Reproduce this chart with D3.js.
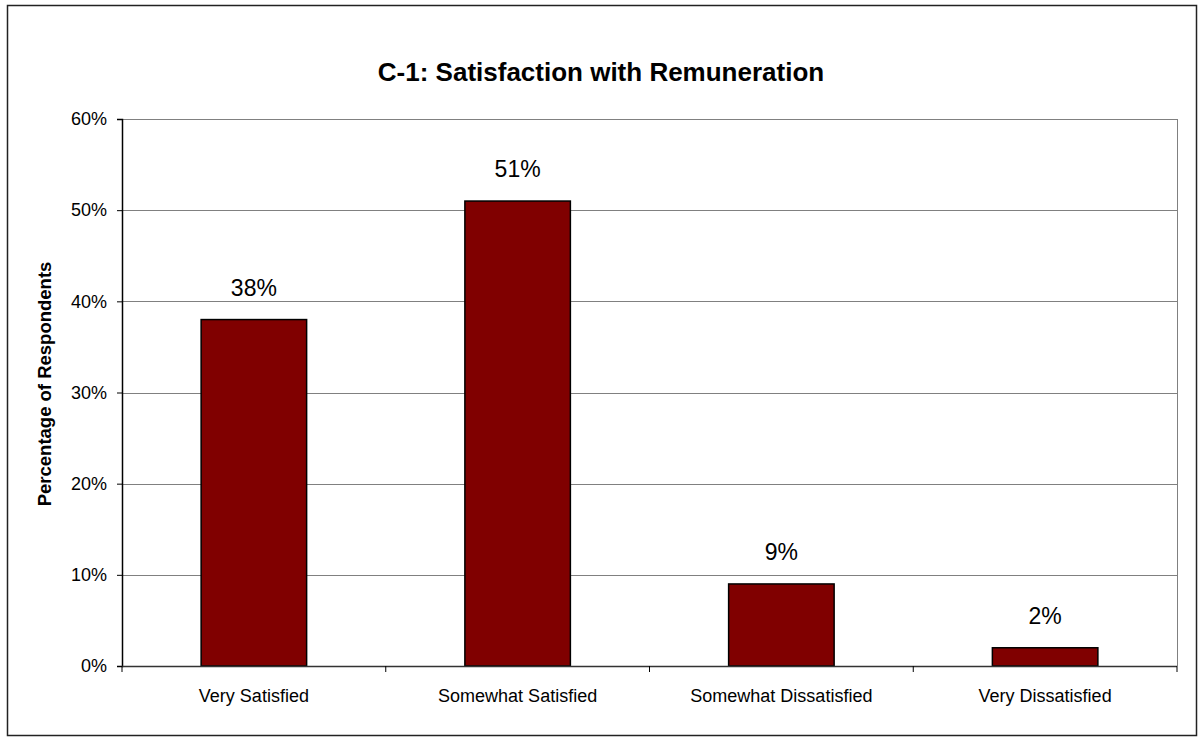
<!DOCTYPE html>
<meta charset="utf-8">
<style>
body { margin: 0; background: #fff; }
text { font-family: Arial, "Liberation Sans", sans-serif; fill: #000; }
.grid line { stroke: #808080; stroke-width: 1; }
.bar { fill: #800000; stroke: #000; stroke-width: 1.5; }
</style>
<script src="https://d3js.org/d3.v7.min.js"></script>
<svg id="chart" width="1198" height="738"></svg>
<script>

var categories = ["Very Satisfied", "Somewhat Satisfied", "Somewhat Dissatisfied", "Very Dissatisfied"];
var values = [38, 51, 9, 2];
var yTicks = [0, 10, 20, 30, 40, 50, 60];

var svg = d3.select("svg#chart"),
    width = +svg.attr("width"),
    height = +svg.attr("height");

var margin = {left: 122, top: 119, right: 1177, bottom: 666};

// outer frame
svg.append("rect")
    .attr("x", 7.5).attr("y", 5.5)
    .attr("width", 1189).attr("height", 730)
    .attr("fill", "#fff")
    .attr("stroke", "#222")
    .attr("stroke-width", 1.5);

var x = d3.scaleBand()
    .domain(categories)
    .range([margin.left, margin.right])
    .paddingInner(0.6)
    .paddingOuter(0.3);

var y = d3.scaleLinear()
    .domain([0, 60])
    .range([margin.bottom, margin.top]);

// gridlines
svg.append("g")
    .attr("class", "grid")
  .selectAll("line")
  .data(yTicks.slice(1))
  .enter().append("line")
    .attr("x1", margin.left).attr("x2", margin.right)
    .attr("y1", function(d) { return Math.round(y(d)) + 0.5; })
    .attr("y2", function(d) { return Math.round(y(d)) + 0.5; });

// right edge of plot area
svg.append("line")
    .attr("x1", margin.right + 0.5).attr("x2", margin.right + 0.5)
    .attr("y1", margin.top).attr("y2", margin.bottom)
    .attr("stroke", "#808080");

// y axis
var yAxis = svg.append("g")
    .attr("transform", "translate(" + margin.left + ",0)")
    .call(d3.axisLeft(y)
      .tickValues(yTicks)
      .tickSize(5)
      .tickPadding(10)
      .tickFormat(function(d) { return d + "%"; }));
yAxis.select(".domain").attr("stroke", "#000").attr("stroke-width", 1.5);
yAxis.selectAll(".tick line").attr("stroke", "#000");
yAxis.selectAll("text").attr("font-size", 18).attr("fill", "#000");

// bars
svg.append("g")
  .selectAll("rect")
  .data(values)
  .enter().append("rect")
    .attr("class", "bar")
    .attr("x", function(d, i) { return x(categories[i]); })
    .attr("y", function(d) { return y(d); })
    .attr("width", x.bandwidth())
    .attr("height", function(d) { return y(0) - y(d); });

// value labels
svg.append("g")
  .selectAll("text")
  .data(values)
  .enter().append("text")
    .attr("x", function(d, i) { return x(categories[i]) + x.bandwidth() / 2; })
    .attr("y", function(d) { return y(d) - 24; })
    .attr("text-anchor", "middle")
    .attr("font-size", 23)
    .text(function(d) { return d + "%"; });

// x axis with ticks between categories
var xAxis = svg.append("g");
xAxis.append("line")
    .attr("x1", margin.left).attr("x2", margin.right)
    .attr("y1", margin.bottom + 0.5).attr("y2", margin.bottom + 0.5)
    .attr("stroke", "#333").attr("stroke-width", 1.5);
xAxis.selectAll("line.tk")
  .data(d3.range(categories.length + 1))
  .enter().append("line")
    .attr("class", "tk")
    .attr("x1", function(i) { return margin.left + i * (margin.right - margin.left) / categories.length; })
    .attr("x2", function(i) { return margin.left + i * (margin.right - margin.left) / categories.length; })
    .attr("y1", margin.bottom).attr("y2", margin.bottom + 6)
    .attr("stroke", "#000");
xAxis.selectAll("text")
  .data(categories)
  .enter().append("text")
    .attr("x", function(d) { return x(d) + x.bandwidth() / 2; })
    .attr("y", 702)
    .attr("text-anchor", "middle")
    .attr("font-size", 18)
    .text(function(d) { return d; });

// title
svg.append("text")
    .attr("x", 601)
    .attr("y", 81)
    .attr("text-anchor", "middle")
    .attr("font-size", 26)
    .attr("font-weight", "bold")
    .text("C-1: Satisfaction with Remuneration");

// y axis title
svg.append("text")
    .attr("transform", "translate(51,384) rotate(-90)")
    .attr("text-anchor", "middle")
    .attr("font-size", 18.5)
    .attr("font-weight", "bold")
    .text("Percentage of Respondents");

</script>
